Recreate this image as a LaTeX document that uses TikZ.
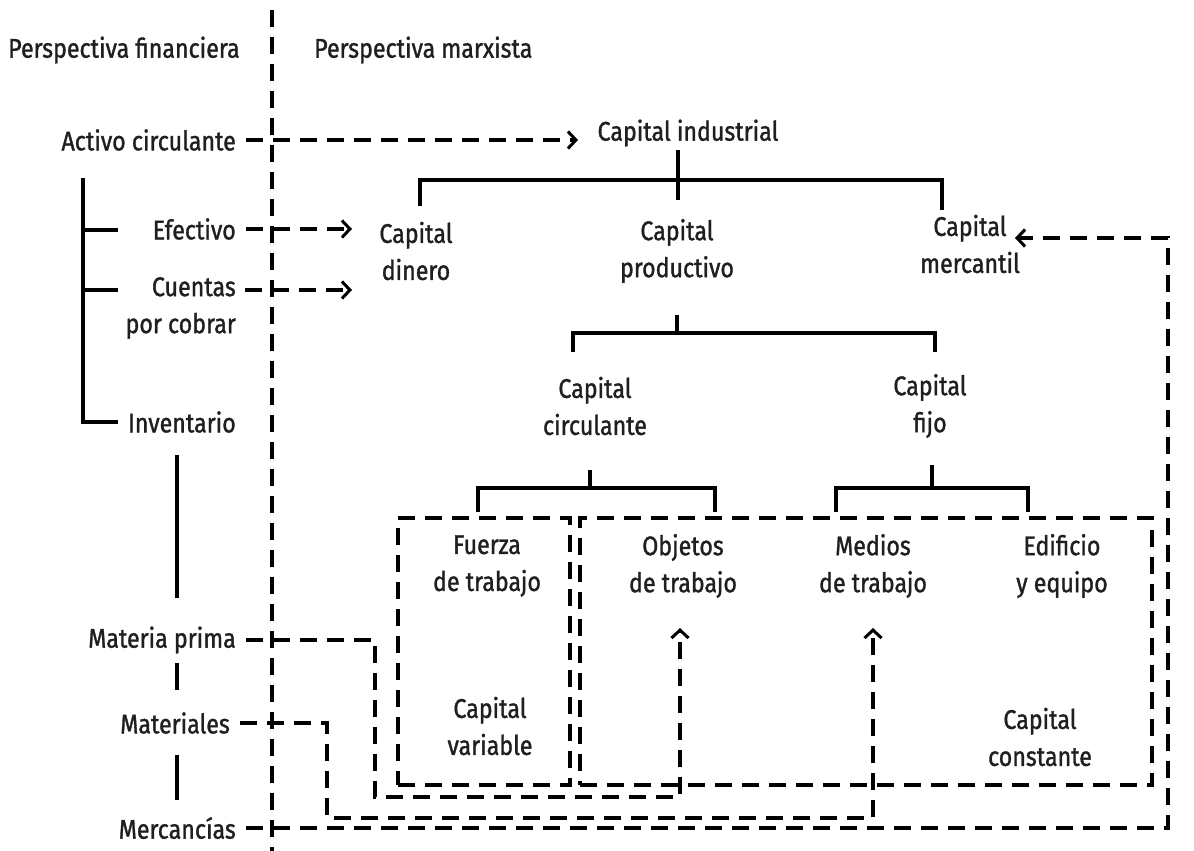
\documentclass[tikz,border=0pt]{standalone}
\usepackage{fontspec}
\setmainfont{Fira Sans}[FakeStretch=0.86, FakeBold=1.2]
\usetikzlibrary{arrows.meta}
\begin{document}
\begin{tikzpicture}[x=1pt,y=-1pt,
  lbl/.style={font=\fontsize{27}{37}\selectfont, inner sep=2pt, align=center, text=black!88},
  tree/.style={line width=3.8pt},
  dl/.style={line width=3.8pt, dash pattern=on 17pt off 10pt},
  tip/.style={-{Straight Barb[length=8pt,width=17pt,line width=3pt]}},
  dbox/.style={draw, dl, minimum width=#1, inner sep=0pt}
]
\useasboundingbox[fill=white] (0,0) rectangle (1194,851);

% header texts
\node[lbl, anchor=west] (pf) at (6,50) {Perspectiva financiera};
\node[lbl, anchor=west] (pm) at (312,50) {Perspectiva marxista};

% separator
\coordinate (sepT) at (272,10);
\coordinate (sepB) at (272,851);
\draw[dl] (sepT) -- (sepB);

% left column
\node[lbl, anchor=east] (ac) at (238,140) {Activo circulante};
\node[lbl, anchor=east] (ef) at (238,229) {Efectivo};
\node[lbl, anchor=east, align=right] (cu) at (238,308) {Cuentas\\por cobrar};
\node[lbl, anchor=east] (inv) at (238,422) {Inventario};
\node[lbl, anchor=east] (mp) at (238,640) {Materia prima};
\node[lbl, anchor=east] (mat) at (232,723) {Materiales};
\node[lbl, anchor=east] (merc) at (238,828) {Mercancías};

% left bracket
\draw[tree] (83,178) -- (83,422) -- (118,422);
\draw[tree] (83,230) -- (118,230);
\draw[tree] (83,290) -- (118,290);
\draw[tree] (177,455) -- (177,598);
\draw[tree] (177,663) -- (177,690);
\draw[tree] (177,755) -- (177,800);

% right tree texts
\node[lbl] (ci) at (688,133) {Capital industrial};
\node[lbl] (cd) at (416,251) {Capital\\dinero};
\node[lbl] (cp) at (677,251) {Capital\\productivo};
\node[lbl] (cm) at (970,244) {Capital\\mercantil};
\node[lbl] (cc) at (595,406) {Capital\\circulante};
\node[lbl] (cf) at (930,406) {Capital\\fijo};
\node[lbl] (ft) at (487,566) {Fuerza\\de trabajo};
\node[lbl] (ot) at (683,566) {Objetos\\de trabajo};
\node[lbl] (md) at (873,566) {Medios\\de trabajo};
\node[lbl] (ee) at (1062,566) {Edificio\\y equipo};
\node[lbl] (cv) at (490,726) {Capital\\variable};
\node[lbl] (cco) at (1040,737) {Capital\\constante};

% tree brackets
\draw[tree] (678,150) -- (678,200);
\draw[tree] (420,206) -- (420,180) -- (942,180) -- (942,210);
\draw[tree] (677,315) -- (677,333);
\draw[tree] (573,352) -- (573,333) -- (935,333) -- (935,352);
\draw[tree] (590,470) -- (590,488);
\draw[tree] (478,512) -- (478,488) -- (715,488) -- (715,512);
\draw[tree] (932,465) -- (932,488);
\draw[tree] (836,512) -- (836,488) -- (1028,488) -- (1028,512);

% dashed boxes
\node[dbox=172pt, minimum height=267pt] (bv) at (484,651.5) {};
\node[dbox=572pt, minimum height=267pt] (bc) at (866,651.5) {};

% arrows from financial to marxist view
\draw[dl, tip] ([xshift=8pt]ac.east) -- (ac.east -| 578,0);
\draw[dl, tip] ([xshift=8pt]ef.east) -- (ef.east -| 352,0);
\coordinate (cuA) at (245,290);
\draw[dl, tip] (cuA) -- (cuA -| 352,0);

% Materia prima -> Objetos de trabajo
\coordinate (mp1) at (375,797);
\coordinate (ot1) at (680,628);
\draw[dl, tip] ([xshift=8pt]mp.east) -| (mp1) -| (ot1);

% Materiales -> Medios de trabajo
\coordinate (mt1) at (327,818);
\coordinate (md1) at (873,628);
\draw[dl, tip] ([xshift=8pt]mat.east) -| (mt1) -| (md1);

% Mercancias -> Capital mercantil
\coordinate (rc) at (1168,238);
\draw[dl, tip] ([xshift=8pt]merc.east) -| (rc) -- (rc -| 1015,0);
\end{tikzpicture}
\end{document}
